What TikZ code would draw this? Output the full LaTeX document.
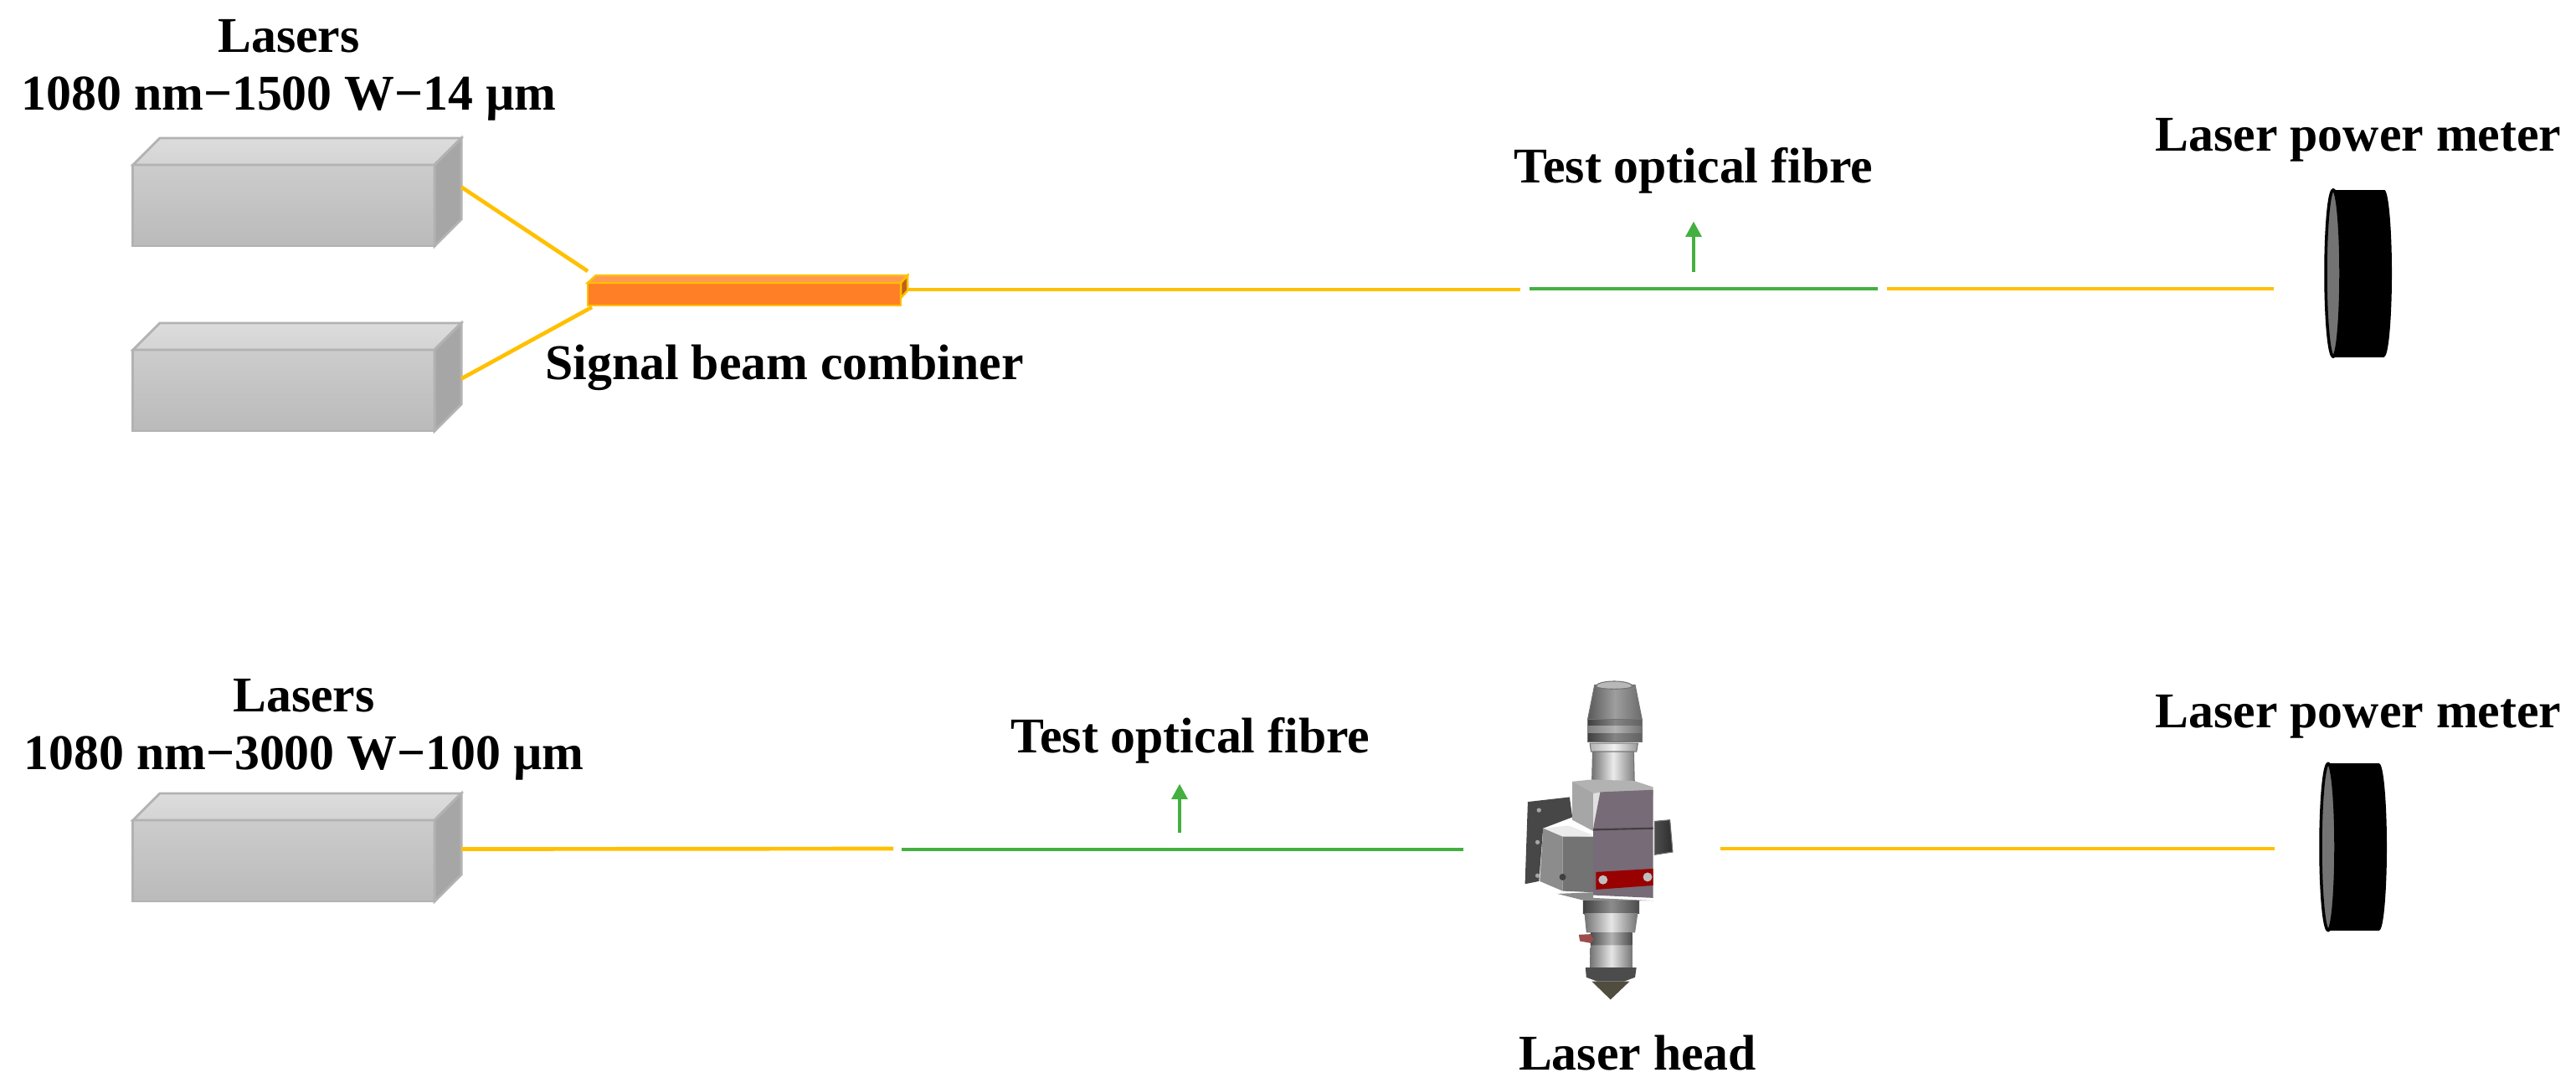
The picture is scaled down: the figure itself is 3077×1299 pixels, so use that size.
\documentclass[tikz,border=0pt]{standalone}
\usepackage{fontspec}
\setmainfont{Liberation Serif}
\definecolor{fibreorange}{HTML}{FFC000}
\definecolor{fibregreen}{HTML}{43B040}
\definecolor{combinerfill}{HTML}{FF7F27}
\usetikzlibrary{shapes.geometric,arrows.meta,positioning,calc}

% side and top faces of a laser box, hung on its front node
\newcommand{\laserfaces}[1]{%
    \draw[boxedge, top color=boxtop!80!white, bottom color=boxtop] (#1.north west) -- ++(32,-32) -- ++(360,0) -- ++(-32,32) -- cycle;
    \draw[boxedge, fill=boxside] (#1.north east) -- ++(32,-32) -- ++(0,65) -- ++(0,32) -- ++(-32,32) -- cycle;
}
% power meter: black body and grey front lens
\newcommand{\powermeter}[3]{%
    \node[meterend] (#1back) at (#2+61,#3) {};
    \fill (#2,#3-100) rectangle (#2+61,#3+100);
    \node[meterlens] (#1) at (#2,#3) {};
}
\colorlet{boxtop}{black!17}
\colorlet{boxside}{black!35}

\begin{document}
\begin{tikzpicture}[
        x=0.01cm, y=-0.01cm,
        node distance=0.2cm,
        lbl/.style={font=\fontsize{17}{19.6}\selectfont\bfseries, align=center, inner sep=0pt},
        laserbody/.style={rectangle, draw=black!30, line width=0.8pt, top color=black!20, bottom color=black!27, minimum width=3.6cm, minimum height=0.97cm, inner sep=0pt, outer sep=0pt},
        boxedge/.style={draw=black!30, line width=0.8pt},
        fibre/.style={draw=fibreorange, line width=1.33pt},
        testfibre/.style={draw=fibregreen, line width=1.33pt},
        markarrow/.style={-{Triangle[length=5.2pt,width=5.2pt]}, draw=fibregreen, fill=fibregreen, line width=1.25pt},
        meterend/.style={ellipse, fill=black, minimum width=0.18cm, minimum height=1.99cm, inner sep=0pt, outer sep=0pt},
        meterlens/.style={ellipse, draw=black, line width=1pt, fill=black!55, minimum width=0.18cm, minimum height=1.99cm, inner sep=0pt, outer sep=0pt},
        combiner/.style={rectangle, draw=fibreorange, line width=0.7pt, fill=combinerfill, minimum width=3.74cm, minimum height=0.27cm, inner sep=0pt, outer sep=0pt},
        headpart/.style={draw=black!55, line width=0.3pt}
    ]
    \useasboundingbox (0,0) rectangle (3077,1299);

    % upper set-up
    \node[laserbody] (laserA) at (339,245.5) {};
    \laserfaces{laserA}
    \node[laserbody] (laserB) at (339,466.5) {};
    \laserfaces{laserB}
    \node[lbl, above=0.52cm of laserA.north, xshift=0.06cm] (lasersA) {Lasers\\1080 nm\textminus1500 W\textminus14 µm};

    \node[combiner] (comb) at (889,351.5) {};
    \draw[fibreorange, line width=0.7pt, fill=combinerfill!80!white] (comb.north west) -- ++(10,-9) -- ++(372,0) -- ++(-8,9) -- cycle;
    \draw[fibreorange, line width=0.7pt, fill=combinerfill!75!black] (comb.north east) -- ++(8,-9) -- ++(0,18) -- ++(-8,9) -- cycle;
    \node[lbl, below=0.46cm of comb.south, xshift=0.48cm] (combtext) {Signal beam combiner};

    \coordinate (splitA) at (702,324);
    \coordinate (splitB) at (707,367);
    \coordinate (sideA) at ($(laserA.east)+(32,-22)$);
    \coordinate (sideB) at ($(laserB.east)+(32,-14)$);
    \draw[fibre] (sideA) -- (splitA);
    \draw[fibre] (sideB) -- (splitB);

    \coordinate (outA) at (1084,346);
    \coordinate (gapA) at (1816,346);
    \coordinate (testAl) at (1827,345);
    \coordinate (testAr) at (2243,345);
    \coordinate (gapB) at (2254,345);
    \coordinate (markA) at (2023,325);
    \draw[fibre] (outA) -- (gapA);
    \draw[testfibre] (testAl) -- (testAr);
    \node[inner sep=0pt] (testAtip) at (2023,262) {};
    \draw[markarrow] (markA) -- (testAtip);
    \node[lbl, above=0.28cm of testAtip] (testAtext) {Test optical fibre};

    \powermeter{meterA}{2787}{326.5}
    \draw[fibre] (gapB) -- (2716,345) coordinate (meterAin);
    \node[lbl] (meterAtext) at (2817,167) {Laser power meter};

    % lower set-up
    \node[laserbody] (laserC) at (339,1028.5) {};
    \laserfaces{laserC}
    \node[lbl, above=0.47cm of laserC.north, xshift=0.24cm] (lasersC) {Lasers\\1080 nm\textminus3000 W\textminus100 µm};

    \coordinate (sideC) at ($(laserC.east)+(32,-14)$);
    \coordinate (gapC) at (1067,1014);
    \coordinate (testCl) at (1077,1015);
    \coordinate (testCr) at (1748,1015);
    \coordinate (markC) at (1409,995);
    \draw[fibre] (sideC) -- (gapC);
    \draw[testfibre] (testCl) -- (testCr);
    \node[inner sep=0pt] (testCtip) at (1409,934) {};
    \draw[markarrow] (markC) -- (testCtip);
    \node[lbl, above=0.19cm of testCtip, xshift=0.13cm] (testCtext) {Test optical fibre};

    \powermeter{meterC}{2781}{1012}
    \coordinate (headout) at (2055,1014);
    \draw[fibre] (headout) -- (2717,1014) coordinate (meterCin);
    \node[lbl] (meterCtext) at (2817,856) {Laser power meter};

    % laser head, drawn in the crop's thirds of a pixel
    \begin{scope}[shift={(1780,790)}, x=0.003333cm, y=-0.003333cm]
        \fill[black!72] (135,505) -- (285,488) -- (295,560) -- (190,600) -- (175,790) -- (125,800) -- cycle;
        \fill[black!35] (175,535) circle (8) (170,650) circle (8) (170,770) circle (8);
        \fill[headpart, left color=black!70, right color=black!82] (590,575) -- (645,570) -- (655,685) -- (590,695) -- cycle;
        % top cone and tube
        \path[headpart, left color=black!65, right color=black!58, middle color=black!38] (375,85) -- (520,85) -- (545,210) -- (350,210) -- cycle;
        \path[headpart, fill=black!28] (380,90) arc[start angle=180, end angle=360, x radius=65, y radius=18] arc[start angle=0, end angle=180, x radius=65, y radius=10];
        \path[headpart, left color=black!75, right color=black!62, middle color=black!48] (350,210) -- (545,210) -- (545,290) -- (350,290) -- cycle;
        \path[left color=black!50, right color=black!55, middle color=black!30] (350,232) -- (545,232) -- (545,258) -- (350,258) -- cycle;
        \path[headpart, left color=black!30, right color=black!40, middle color=black!5] (358,295) -- (530,295) -- (525,325) -- (362,325) -- cycle;
        \path[headpart, left color=black!55, right color=black!50, middle color=black!8] (368,325) -- (515,325) -- (518,450) -- (365,450) -- cycle;
        % body
        \fill[black!30] (295,432) -- (365,425) -- (518,430) -- (585,452) -- (585,480) -- (370,480) -- cycle;
        \fill[black!35] (295,432) -- (370,475) -- (370,610) -- (295,570) -- cycle;
        \fill[black!12] (370,475) -- (400,470) -- (395,590) -- (370,590) -- cycle;
        \fill[violet!15!black!58] (395,470) -- (585,462) -- (585,850) -- (370,840) -- (370,600) -- cycle;
        \draw[black!75, line width=0.6pt] (370,605) -- (585,600);
        \fill[black!45] (240,835) -- (370,830) -- (370,850) -- (590,860) -- (340,860) -- cycle;
        % side box
        \fill[black!8] (190,600) -- (280,590) -- (370,625) -- (270,635) -- cycle;
        \fill[black!45] (190,600) -- (260,630) -- (260,825) -- (178,790) -- cycle;
        \fill[black!55] (260,630) -- (370,630) -- (370,830) -- (260,825) -- cycle;
        \node[circle, fill=black!75, inner sep=0.8pt] (screwA) at (260,775) {};
        % red plate
        \fill[red!60!black] (380,757) -- (585,745) -- (585,805) -- (380,820) -- cycle;
        \node[circle, fill=black!25, inner sep=1.1pt] (screwB) at (405,785) {};
        \node[circle, fill=black!25, inner sep=1.1pt] (screwC) at (565,775) {};
        % lower barrel and nozzle
        \path[left color=black!75, right color=black!70, middle color=black!45] (333,862) -- (535,862) -- (535,905) -- (333,905) -- cycle;
        \path[left color=black!55, right color=black!55, middle color=black!10] (338,905) -- (530,905) -- (520,975) -- (345,975) -- cycle;
        \path[left color=black!70, right color=black!70, middle color=black!30] (360,975) -- (510,975) -- (510,1020) -- (360,1020) -- cycle;
        \path[left color=black!55, right color=black!55, middle color=black!10] (360,1020) -- (510,1020) -- (512,1100) -- (358,1100) -- cycle;
        \fill[black!70] (342,1100) -- (525,1100) -- (520,1135) -- (480,1150) -- (385,1150) -- (345,1135) -- cycle;
        \fill[black!65!yellow!60!black] (365,1150) -- (500,1150) -- (432,1215) -- cycle;
        \fill[red!45!black!70] (318,982) -- (360,980) -- (372,1000) -- (360,1012) -- (322,1005) -- cycle;
    \end{scope}
    \node[lbl] (headtext) at (1956,1258) {Laser head};
\end{tikzpicture}
\end{document}
